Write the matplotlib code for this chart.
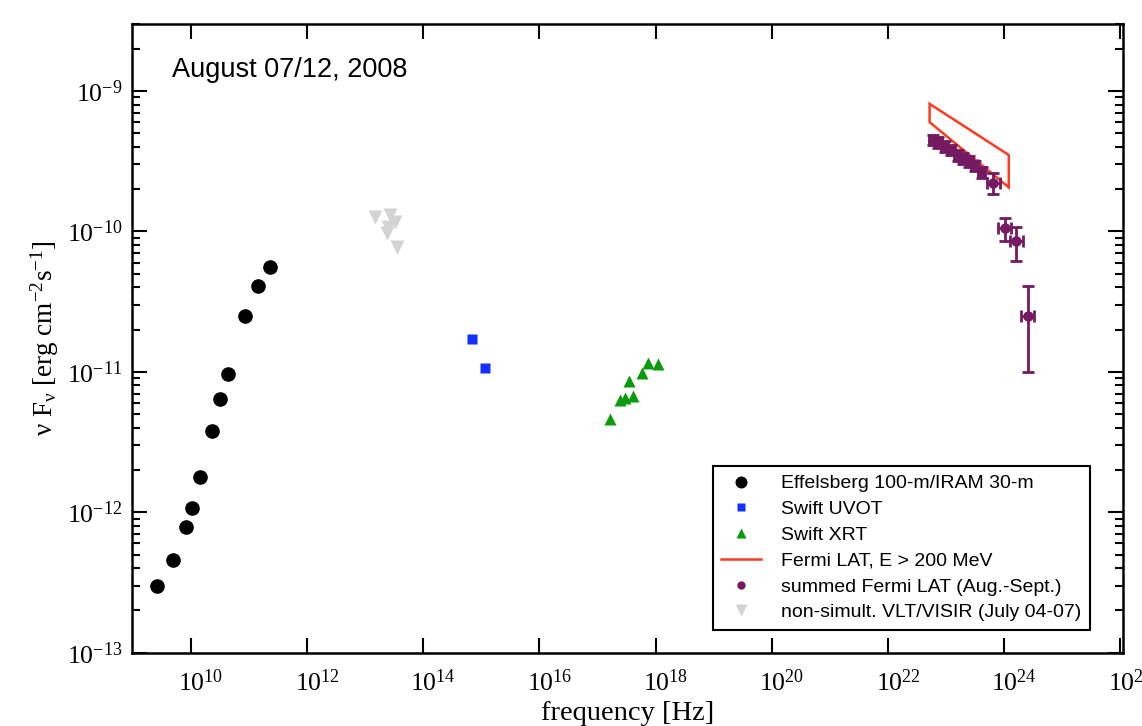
import matplotlib
matplotlib.use("Agg")
import matplotlib.pyplot as plt
from matplotlib.ticker import FixedLocator, FixedFormatter, LogLocator, NullFormatter, NullLocator
from matplotlib.transforms import ScaledTranslation

# ---------------- data ----------------
radio_nu = [2.64e9, 4.85e9, 8.35e9, 1.05e10, 1.46e10, 2.3e10, 3.2e10, 4.3e10, 8.6e10, 1.42e11, 2.28e11]
radio_flux = [3.0e-13, 4.6e-13, 7.9e-13, 1.07e-12, 1.78e-12, 3.8e-12, 6.4e-12, 9.7e-12, 2.5e-11, 4.1e-11, 5.6e-11]

uvot_nu = [6.9e14, 1.17e15]
uvot_flux = [1.70e-11, 1.07e-11]

xrt_nu = [1.66e17, 2.4e17, 2.95e17, 4.1e17, 3.45e17, 5.75e17, 7.4e17, 1.1e18]
xrt_flux = [4.6e-12, 6.3e-12, 6.5e-12, 6.7e-12, 8.6e-12, 9.8e-12, 1.16e-11, 1.14e-11]

lat_bow_nu = [5.2e22, 1.2e24]
lat_bow_upper = [8.1e-10, 3.5e-10]
lat_bow_lower = [6.0e-10, 2.06e-10]

fermi_nu = [5.9e22, 7.4e22, 9.5e22, 1.23e23, 1.58e23, 1.95e23, 2.5e23, 3.1e23, 4.1e23, 6.5e23, 1.02e24, 1.62e24, 2.57e24]
fermi_flux = [4.5e-10, 4.3e-10, 4.0e-10, 3.8e-10, 3.5e-10, 3.3e-10, 3.15e-10, 2.95e-10, 2.65e-10, 2.2e-10, 1.05e-10, 8.5e-11, 2.5e-11]
fermi_flux_lo = [4.1e-10, 3.95e-10, 3.65e-10, 3.5e-10, 3.2e-10, 3.0e-10, 2.9e-10, 2.7e-10, 2.4e-10, 1.85e-10, 8.5e-11, 6.2e-11, 1.0e-11]
fermi_flux_hi = [4.9e-10, 4.7e-10, 4.4e-10, 4.15e-10, 3.8e-10, 3.6e-10, 3.45e-10, 3.2e-10, 2.9e-10, 2.6e-10, 1.25e-10, 1.08e-10, 4.1e-11]
fermi_nu_lo = [5.1e22, 6.4e22, 8.3e22, 1.07e23, 1.38e23, 1.70e23, 2.18e23, 2.7e23, 3.55e23, 5.0e23, 7.8e23, 1.25e24, 1.98e24]
fermi_nu_hi = [6.8e22, 8.5e22, 1.09e23, 1.41e23, 1.81e23, 2.24e23, 2.87e23, 3.55e23, 4.7e23, 8.4e23, 1.33e24, 2.1e24, 3.3e24]

visir_nu = [1.48e13, 2.7e13, 3.24e13, 2.5e13, 2.34e13, 3.47e13]
visir_flux = [1.27e-10, 1.31e-10, 1.17e-10, 1.08e-10, 9.7e-11, 7.8e-11]

x_ticks = [1e10, 1e12, 1e14, 1e16, 1e18, 1e20, 1e22, 1e24, 1e26]
x_ticklabels = [r'$10^{10}$', r'$10^{12}$', r'$10^{14}$', r'$10^{16}$', r'$10^{18}$',
                r'$10^{20}$', r'$10^{22}$', r'$10^{24}$', r'$10^{26}$']
y_ticks = [1e-13, 1e-12, 1e-11, 1e-10, 1e-9]
y_ticklabels = [r'$10^{-13}$', r'$10^{-12}$', r'$10^{-11}$', r'$10^{-10}$', r'$10^{-9}$']

labels = ['Effelsberg 100-m/IRAM 30-m', 'Swift UVOT', 'Swift XRT', 'Fermi LAT, E > 200 MeV',
          'summed Fermi LAT (Aug.-Sept.)', 'non-simult. VLT/VISIR (July 04-07)']

# ---------------- style ----------------
plt.rcParams['mathtext.fontset'] = 'custom'
plt.rcParams['mathtext.rm'] = 'Liberation Serif'
plt.rcParams['mathtext.it'] = 'Liberation Serif:italic'
plt.rcParams['mathtext.bf'] = 'Liberation Serif:bold'

fig = plt.figure(figsize=(11.42, 7.26), dpi=100)
ax = fig.add_axes([0.1153, 0.1010, 0.8683, 0.8659])

purple = '#731a60'

ax.plot(visir_nu, visir_flux, 'v', color='#d3d3d3', ms=10, mec='none', label=labels[5], zorder=2)
ax.plot(radio_nu, radio_flux, 'o', color='black', ms=9.5, label=labels[0], zorder=3)
ax.plot(uvot_nu, uvot_flux, 's', color='#1030ff', ms=7.5, mec='none', label=labels[1], zorder=3)
ax.plot(xrt_nu, xrt_flux, '^', color='#0a9a0a', ms=8.5, mec='none', label=labels[2], zorder=3)
ax.fill(lat_bow_nu + lat_bow_nu[::-1], lat_bow_upper + lat_bow_lower[::-1],
        fill=False, edgecolor='#ff3b1f', lw=1.8, zorder=3)
ax.plot([], [], '-', color='#ff3b1f', lw=1.8, label=labels[3])
yerr = [[f - l for f, l in zip(fermi_flux, fermi_flux_lo)],
        [h - f for f, h in zip(fermi_flux, fermi_flux_hi)]]
xerr = [[n - l for n, l in zip(fermi_nu, fermi_nu_lo)],
        [h - n for n, h in zip(fermi_nu, fermi_nu_hi)]]
ax.errorbar(fermi_nu, fermi_flux, yerr=yerr, xerr=xerr, fmt='none', ecolor=purple,
            elinewidth=2.0, capsize=4, capthick=2.0, zorder=3)
ax.plot(fermi_nu, fermi_flux, 'o', color=purple, ms=7.5, mec='none', label=labels[4], zorder=4)

ax.set_xscale('log')
ax.set_yscale('log')
ax.set_xlim(10 ** 8.98, 10 ** 26.05)
ax.set_ylim(1e-13, 3e-9)

ax.xaxis.set_major_locator(FixedLocator(x_ticks))
ax.xaxis.set_major_formatter(FixedFormatter(x_ticklabels))
ax.xaxis.set_minor_locator(NullLocator())
ax.yaxis.set_major_locator(FixedLocator(y_ticks))
ax.yaxis.set_major_formatter(FixedFormatter(y_ticklabels))
ax.yaxis.set_minor_locator(LogLocator(base=10, subs=range(2, 10), numticks=20))
ax.yaxis.set_minor_formatter(NullFormatter())

ax.tick_params(which='both', direction='in', top=True, right=True, width=1.5, colors='black')
ax.tick_params(which='major', length=11, labelsize=18.5)
ax.tick_params(axis='x', which='major', pad=12)
ax.tick_params(axis='y', which='major', pad=7)
ax.tick_params(which='minor', length=6)
for sp in ax.spines.values():
    sp.set_linewidth(1.8)

for lbl in ax.get_xticklabels():
    lbl.set_fontfamily('Liberation Serif')
    lbl.set_transform(lbl.get_transform() + ScaledTranslation(10 / 100, 0, fig.dpi_scale_trans))
for lbl in ax.get_yticklabels():
    lbl.set_fontfamily('Liberation Serif')

ax.set_xlabel('frequency [Hz]', fontsize=20.5, family='Liberation Serif', labelpad=4)
ax.set_ylabel(r'ν F$_{\mathrm{ν}}$ [erg cm$^{\mathrm{-2}}$s$^{\mathrm{-1}}$]', fontsize=19.5,
              family='Liberation Serif', labelpad=4)

ax.text(0.0406, 0.927, 'August 07/12, 2008', transform=ax.transAxes, fontsize=19.5,
        family='Liberation Sans', ha='left', va='center')

handles, labs = ax.get_legend_handles_labels()
order = [labels.index(l) for l in labs]
pairs = sorted(zip(order, handles, labs))
leg = ax.legend([p[1] for p in pairs], [p[2] for p in pairs], loc='lower right',
                bbox_to_anchor=(0.966, 0.036), borderaxespad=0, fancybox=False,
                edgecolor='black', framealpha=1, prop={'family': 'Liberation Sans', 'size': 14},
                markerscale=0.8, labelspacing=0.42, handlelength=2.05, handletextpad=1.0,
                borderpad=0.45)
leg.get_frame().set_linewidth(1.5)

fig.savefig('out.png', dpi=100)
